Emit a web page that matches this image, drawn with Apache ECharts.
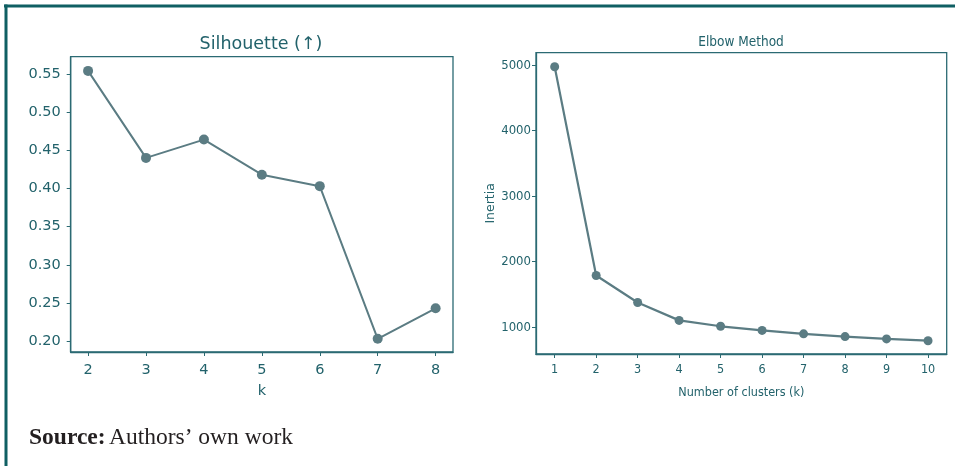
<!DOCTYPE html>
<html>
<head>
<meta charset="utf-8">
<script src="https://cdn.jsdelivr.net/npm/echarts@6/dist/echarts.min.js"></script>
<style>
html,body{margin:0;padding:0;background:#fff;}
#c{width:955px;height:466px;}
</style>
</head>
<body>
<div id="c"></div>
<script>
// Silhouette chart data
const silK = [2, 3, 4, 5, 6, 7, 8];
const silVals = [0.554, 0.440, 0.464, 0.418, 0.403, 0.203, 0.243];
const silTicks = [0.20, 0.25, 0.30, 0.35, 0.40, 0.45, 0.50, 0.55];
// Elbow chart data
const elbK = [1, 2, 3, 4, 5, 6, 7, 8, 9, 10];
const elbVals = [4975, 1790, 1378, 1105, 1015, 952, 900, 858, 822, 795];
const elbTicks = [1000, 2000, 3000, 4000, 5000];

const TEAL = '#22626b';
const FRAME = '#0f5f63';
const LINE = '#5b7c83';
const tickCol = '#2b6a73';
const NARROW = '"DejaVu Sans Condensed", sans-serif';

const chart = echarts.init(document.getElementById('c'), null, {renderer: 'canvas'});

function xAxisCfg(idx, cats, min, max, font, size, name, nameGap, margin) {
  return {
    gridIndex: idx, type: 'value', min: min, max: max,
    axisLine: {show: true, onZero: false, lineStyle: {color: tickCol, width: 1.3}},
    axisTick: {show: true, customValues: cats, length: 4, lineStyle: {color: tickCol, width: 1}},
    axisLabel: {customValues: cats, color: TEAL, fontFamily: font, fontSize: size, margin: margin},
    splitLine: {show: false},
    name: name, nameLocation: 'middle', nameGap: nameGap,
    nameTextStyle: {color: TEAL, fontFamily: font, fontSize: size}
  };
}

const option = {
  animation: false,
  backgroundColor: '#fff',
  title: [
    {text: 'Silhouette (↑)', left: 256, top: 30, textAlign: 'center',
     textStyle: {color: TEAL, fontFamily: 'DejaVu Sans', fontSize: 17.5, fontWeight: 'normal'}},
    {text: 'Elbow Method', left: 736, top: 30, textAlign: 'center',
     textStyle: {color: TEAL, fontFamily: NARROW, fontSize: 13.5, fontWeight: 'normal'}}
  ],
  grid: [
    {left: 70.7, top: 56.7, width: 382.3, height: 295.3, show: true, borderColor: tickCol, borderWidth: 1.3, backgroundColor: 'transparent'},
    {left: 536, top: 52.7, width: 410.7, height: 301.3, show: true, borderColor: tickCol, borderWidth: 1.3, backgroundColor: 'transparent'}
  ],
  xAxis: [
    xAxisCfg(0, silK, 1.7, 8.3, 'DejaVu Sans', 14.5, 'k', 32, 11),
    xAxisCfg(1, elbK, 0.55, 10.45, NARROW, 12.5, 'Number of clusters (k)', 32, 9)
  ],
  yAxis: [
    {gridIndex: 0, type: 'value', min: 0.1857, max: 0.5726,
     axisLine: {show: true, onZero: false, lineStyle: {color: tickCol, width: 1.3}},
     axisTick: {show: true, customValues: silTicks, length: 4, lineStyle: {color: tickCol}},
     axisLabel: {customValues: silTicks, color: TEAL, fontFamily: 'DejaVu Sans', fontSize: 14.5, margin: 10,
       formatter: v => v.toFixed(2)},
     splitLine: {show: false}},
    {gridIndex: 1, type: 'value', min: 592, max: 5190,
     axisLine: {show: true, onZero: false, lineStyle: {color: tickCol, width: 1.3}},
     axisTick: {show: true, customValues: elbTicks, length: 4, lineStyle: {color: tickCol}},
     axisLabel: {customValues: elbTicks, color: TEAL, fontFamily: NARROW, fontSize: 13, margin: 5,
       formatter: v => String(v)},
     splitLine: {show: false},
     name: 'Inertia', nameLocation: 'middle', nameGap: 31, nameRotate: 90,
     nameTextStyle: {color: TEAL, fontFamily: 'DejaVu Sans', fontSize: 12.5}}
  ],
  series: [
    {type: 'line', xAxisIndex: 0, yAxisIndex: 0,
     data: silK.map((k, i) => [k, silVals[i]]),
     symbol: 'circle', symbolSize: 10,
     lineStyle: {color: LINE, width: 2},
     itemStyle: {color: LINE}},
    {type: 'line', xAxisIndex: 1, yAxisIndex: 1,
     data: elbK.map((k, i) => [k, elbVals[i]]),
     symbol: 'circle', symbolSize: 9,
     lineStyle: {color: LINE, width: 2.2},
     itemStyle: {color: LINE}}
  ],
  graphic: [
    {type: 'line', shape: {x1: 4, y1: 6, x2: 955, y2: 6}, style: {stroke: FRAME, lineWidth: 3}},
    {type: 'line', shape: {x1: 6, y1: 4.5, x2: 6, y2: 466}, style: {stroke: FRAME, lineWidth: 3}},
    {type: 'text', left: 29, top: 426,
     style: {
       text: '{b|Source:} {n|Authors’ own work}',
       rich: {
         b: {fontFamily: 'Liberation Serif', fontWeight: 'bold', fontSize: 23.5, fill: '#231f20'},
         n: {fontFamily: 'Liberation Serif', fontSize: 23.5, fill: '#231f20'}
       }
     }}
  ]
};
chart.setOption(option);
</script>
</body>
</html>
